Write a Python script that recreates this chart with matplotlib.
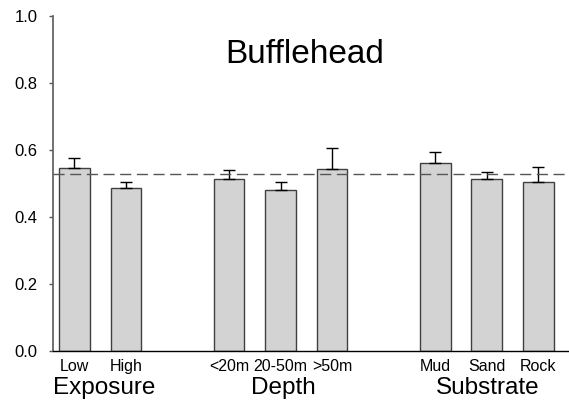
import numpy as np
import matplotlib
matplotlib.use('Agg')
import matplotlib.pyplot as plt

plt.rcParams['font.family'] = ['Liberation Sans', 'DejaVu Sans']

# data
categories = ['Low', 'High', '<20m', '20-50m', '>50m', 'Mud', 'Sand', 'Rock']
positions  = [0, 1, 3, 4, 5, 7, 8, 9]
means      = [0.545, 0.485, 0.514, 0.480, 0.543, 0.560, 0.514, 0.503]
errors     = [0.030, 0.018, 0.027, 0.025, 0.061, 0.035, 0.021, 0.047]
groups     = ['Exposure', 'Depth', 'Substrate']
group_pos  = [0.57, 4.05, 8.02]
overall    = 0.528
title      = 'Bufflehead'

fig = plt.figure(figsize=(5.69, 4.07), dpi=100)
ax = fig.add_axes([0.0931, 0.1376, 0.9069, 0.8238])

ax.bar(positions, means, width=0.6, color='#d3d3d3', edgecolor='#404040',
       linewidth=1.0, zorder=2)
ax.errorbar(positions, means, yerr=[np.zeros(len(errors)), errors], fmt='none',
            ecolor='black', elinewidth=1.0, capsize=4, capthick=1.0, zorder=3)
ax.axhline(overall, color='#555555', linewidth=1.0, dashes=(8, 4), zorder=4)

ax.set_xlim(-0.417, 9.6)
ax.set_ylim(0, 1.0)
ax.set_yticks([0, 0.2, 0.4, 0.6, 0.8, 1.0])
ax.set_yticklabels(['0.0', '0.2', '0.4', '0.6', '0.8', '1.0'], fontsize=12)
ax.tick_params(axis='y', direction='out', length=3, width=1, pad=8, color='#555555')
ax.set_xticks([])

for s in ['top', 'right']:
    ax.spines[s].set_visible(False)
ax.spines['left'].set_color('#666666')
ax.spines['left'].set_linewidth(1.3)
ax.spines['bottom'].set_color('black')
ax.spines['bottom'].set_linewidth(1.0)

for p, c in zip(positions, categories):
    ax.annotate(c, xy=(p, 0), xycoords=('data', 'axes fraction'),
                xytext=(0, -11.5), textcoords='offset points',
                ha='center', va='center', fontsize=11.5)
for p, g in zip(group_pos, groups):
    ax.annotate(g, xy=(p, 0), xycoords=('data', 'axes fraction'),
                xytext=(0, -26.6), textcoords='offset points',
                ha='center', va='center', fontsize=17.5)

ax.text(0.488, 0.885, title, transform=ax.transAxes, ha='center', va='center',
        fontsize=24)

fig.savefig('out.png', dpi=100)
